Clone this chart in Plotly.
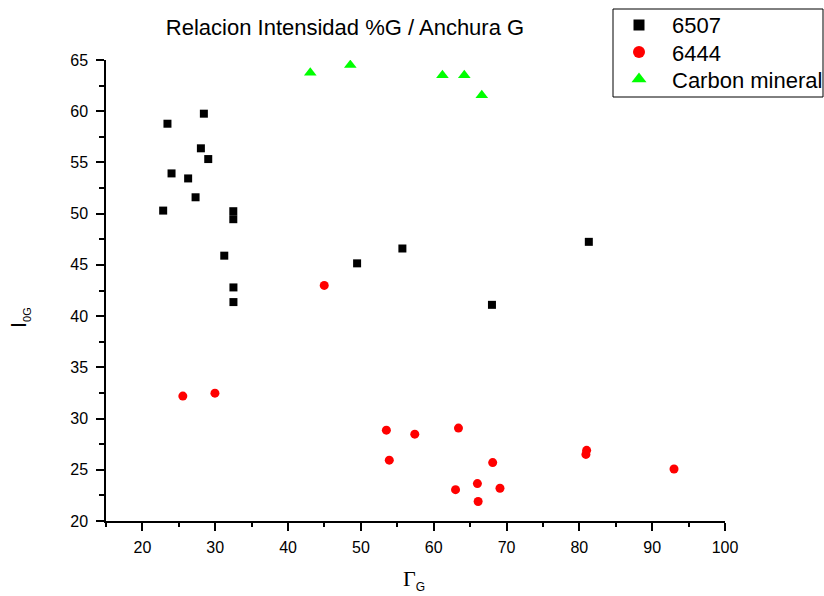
import plotly.graph_objects as go

# Sample 6507
x_6507 = [22.85, 23.44, 24.0, 26.28, 27.3, 28.03, 28.44, 29.04, 31.24, 32.48, 32.48,
          32.5, 32.5, 49.48, 55.7, 68.0, 81.3]
y_6507 = [50.3, 58.78, 53.93, 53.44, 51.6, 56.38, 59.76, 55.33, 45.9, 50.24, 49.46,
          42.8, 41.37, 45.15, 46.6, 41.1, 47.25]

# Sample 6444
x_6444 = [25.55, 29.96, 44.97, 53.5, 53.9, 57.4, 63.4, 63.0, 66.0, 66.1, 68.1, 69.1,
          80.9, 81.0, 93.0]
y_6444 = [32.19, 32.48, 43.0, 28.87, 25.94, 28.48, 29.07, 23.06, 23.65, 21.9, 25.7,
          23.2, 26.5, 26.9, 25.08]

# Carbon mineral
x_carbon = [43.05, 48.55, 61.2, 64.2, 66.6]
y_carbon = [63.76, 64.5, 63.5, 63.5, 61.55]

series_names = ["6507", "6444", "Carbon mineral"]
series_symbols = ["square", "circle", "triangle-up"]
series_colors = ["#000000", "#ff0000", "#00ff00"]
series_sizes = [8, 9, 11]
legend_sizes = [11, 12, 13]

FONT = "Liberation Sans, Arial, sans-serif"
W, H = 824, 596
# plot rectangle in pixels (left, right, top, bottom)
PL, PR, PT, PB = 106, 725, 60, 521


def px_x(p):
    return p / W


def px_y(p):
    return 1 - p / H


fig = go.Figure()
for xs, ys, name, sym, col, sz in zip([x_6507, x_6444, x_carbon], [y_6507, y_6444, y_carbon],
                                      series_names, series_symbols, series_colors, series_sizes):
    fig.add_trace(go.Scatter(x=xs, y=ys, mode="markers", name=name, showlegend=False,
                             marker=dict(symbol=sym, size=sz, color=col, opacity=1,
                                         line=dict(width=0))))

# legend box: symbols drawn on a full-figure pixel overlay, labels as annotations
LEG_L, LEG_R, LEG_T, LEG_B = 613, 823, 9, 97
leg_sym_x = 639
leg_text_x = 670
leg_rows = [25, 52, 79]
for name, sym, col, sz, row in zip(series_names, series_symbols, series_colors,
                                   legend_sizes, leg_rows):
    fig.add_trace(go.Scatter(x=[leg_sym_x], y=[row], mode="markers", showlegend=False,
                             name=name, hoverinfo="skip", xaxis="x2", yaxis="y2",
                             cliponaxis=False, opacity=1,
                             marker=dict(symbol=sym, size=sz, color=col, opacity=1,
                                         line=dict(width=0))))

axis_common = dict(
    showline=True, linecolor="black", linewidth=1.5, mirror=False,
    showgrid=False, zeroline=False,
    ticks="outside", ticklen=8, tickwidth=1.5, tickcolor="black",
    tickfont=dict(family=FONT, size=16, color="black"),
)

fig.update_layout(
    xaxis=dict(range=[15, 100], tick0=0, dtick=10, domain=[px_x(PL), px_x(PR)],
               anchor="y", ticklabelstandoff=3,
               minor=dict(dtick=5, ticks="outside", ticklen=4, tickwidth=1.5,
                          tickcolor="black"),
               **axis_common),
    yaxis=dict(range=[20, 65], tick0=0, dtick=5, domain=[px_y(PB), px_y(PT)],
               anchor="x", ticklabelstandoff=5,
               minor=dict(dtick=2.5, ticks="outside", ticklen=5, tickwidth=1.5,
                          tickcolor="black"),
               **axis_common),
    xaxis2=dict(domain=[0, 1], range=[0, W], visible=False, anchor="y2", fixedrange=True),
    yaxis2=dict(domain=[0, 1], range=[H, 0], visible=False, anchor="x2", fixedrange=True),
)

annotations = [
    dict(text="I<sub><span style='font-size:11px'>0G</span></sub>",
         xref="paper", yref="paper", x=px_x(20), y=px_y(318),
         xanchor="center", yanchor="middle", textangle=-90, showarrow=False,
         font=dict(family=FONT, size=22, color="black")),
    dict(text="<span style='font-family:Liberation Serif, Times New Roman, serif'>Γ</span>"
              "<sub><span style='font-size:12px'>G</span></sub>",
         xref="paper", yref="paper", x=px_x(414), y=px_y(580),
         xanchor="center", yanchor="middle", showarrow=False,
         font=dict(family=FONT, size=22, color="black")),
]
for name, row in zip(series_names, leg_rows):
    annotations.append(dict(text=name, xref="paper", yref="paper",
                            x=px_x(leg_text_x), y=px_y(row + 1), xanchor="left",
                            yanchor="middle", showarrow=False,
                            font=dict(family=FONT, size=22, color="black")))

fig.update_layout(
    width=W, height=H,
    margin=dict(l=0, r=0, t=0, b=0, autoexpand=False),
    paper_bgcolor="white", plot_bgcolor="rgba(0,0,0,0)",
    font=dict(family=FONT, color="black"),
    title=dict(text="Relacion Intensidad %G / Anchura G",
               font=dict(family=FONT, size=22, color="black"),
               x=345 / W, xanchor="center", xref="container",
               y=1 - 27 / H, yanchor="middle", yref="container"),
    showlegend=False,
    shapes=[dict(type="rect", xref="paper", yref="paper",
                 x0=px_x(LEG_L), x1=px_x(LEG_R), y0=px_y(LEG_B), y1=px_y(LEG_T),
                 line=dict(color="black", width=1), fillcolor="rgba(0,0,0,0)")],
    annotations=annotations,
)

fig.write_html("out.html")
